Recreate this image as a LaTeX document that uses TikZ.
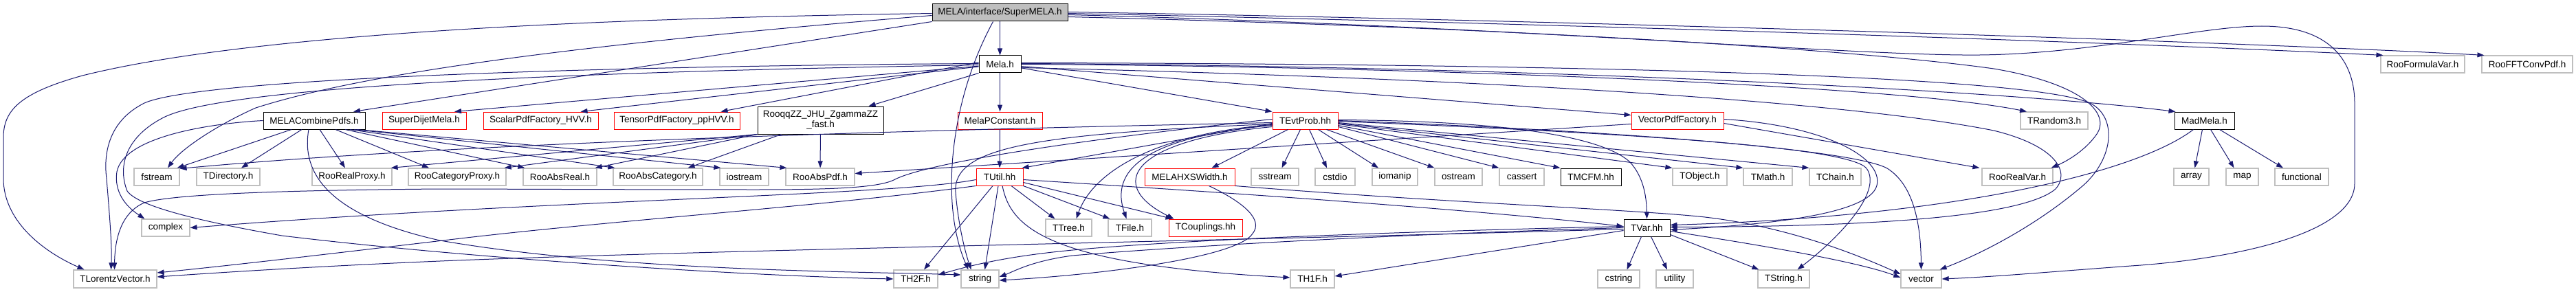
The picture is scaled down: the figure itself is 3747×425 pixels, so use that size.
\documentclass[tikz,border=0pt]{standalone}
\usepackage{fontspec}
\setmainfont{Liberation Sans}
\usetikzlibrary{arrows.meta}
\definecolor{edgec}{RGB}{25,25,112}
\definecolor{grayb}{RGB}{191,191,191}
\definecolor{redb}{RGB}{255,0,0}
\newcommand\nb[7]{\node[#1,minimum width={(#4)-(#3)},minimum height={(#6)-(#5)}] (#2) at ({((#3)+(#4))/2},{((#5)+(#6))/2}) {#7};}
\begin{document}
\begin{tikzpicture}[x=1pt,y=-1pt,
  box/.style={rectangle,inner sep=0pt,align=center,font=\fontsize{13.5}{15}\selectfont,line width=1pt,fill=white},
  gry/.style={box,draw=grayb,line width=1.2pt},
  blk/.style={box,draw=black},
  rbx/.style={box,draw=redb},
  rootb/.style={box,draw=black,fill=grayb},
  ed/.style={draw=edgec,line width=1pt,-{Triangle[length=10pt,width=7pt]}}]
\fill[white] (0,0) rectangle (3747,425);
\useasboundingbox (0,0) rectangle (3747,425);
% rank 0,1
\nb{rootb}{smela}{1356}{1553}{6}{31}{MELA/interface/SuperMELA.h}
\nb{blk}{mela}{1424}{1485}{81}{106}{Mela.h}
\nb{gry}{rfv}{3463}{3585}{81}{106}{RooFormulaVar.h}
\nb{gry}{rfft}{3610}{3742}{81}{106}{RooFFTConvPdf.h}
% rank 2
\nb{blk}{mcp}{383}{531}{163}{188}{MELACombinePdfs.h}
\nb{rbx}{sdm}{556}{678}{163}{188}{SuperDijetMela.h}
\nb{rbx}{spf}{703}{870}{163}{188}{ScalarPdfFactory\_HVV.h}
\nb{rbx}{tpf}{893}{1076}{163}{188}{TensorPdfFactory\_ppHVV.h}
\nb{blk}{rqz}{1102}{1285}{155}{195}{RooqqZZ\_JHU\_ZgammaZZ\\\_fast.h}
\nb{rbx}{mpc}{1393}{1516}{163}{188}{MelaPConstant.h}
\nb{rbx}{tep}{1851}{1946}{163}{188}{TEvtProb.hh}
\nb{rbx}{vpf}{2373}{2507}{163}{188}{VectorPdfFactory.h}
\nb{gry}{trnd}{2939}{3037}{163}{188}{TRandom3.h}
\nb{blk}{mad}{3163}{3250}{163}{188}{MadMela.h}
% rank 3
\nb{gry}{fst}{195}{261}{245}{270}{fstream}
\nb{gry}{tdir}{286}{378}{245}{270}{TDirectory.h}
\nb{gry}{rrp}{454}{570}{245}{270}{RooRealProxy.h}
\nb{gry}{rcp}{594}{736}{245}{270}{RooCategoryProxy.h}
\nb{gry}{rar}{761}{868}{245}{270}{RooAbsReal.h}
\nb{gry}{rac}{892}{1022}{245}{270}{RooAbsCategory.h}
\nb{gry}{ios}{1047}{1118}{245}{270}{iostream}
\nb{gry}{rap}{1143}{1243}{245}{270}{RooAbsPdf.h}
\nb{rbx}{tutil}{1420}{1488}{245}{270}{TUtil.hh}
\nb{rbx}{mhx}{1665}{1796}{245}{270}{MELAHXSWidth.h}
\nb{gry}{sst}{1820}{1889}{245}{270}{sstream}
\nb{gry}{cstdio}{1913}{1971}{245}{270}{cstdio}
\nb{gry}{ioman}{1996}{2062}{245}{270}{iomanip}
\nb{gry}{ostr}{2087}{2156}{245}{270}{ostream}
\nb{gry}{cass}{2181}{2246}{245}{270}{cassert}
\nb{blk}{tmcfm}{2270}{2358}{245}{270}{TMCFM.hh}
\nb{gry}{tobj}{2433}{2512}{245}{270}{TObject.h}
\nb{gry}{tmath}{2536}{2607}{245}{270}{TMath.h}
\nb{gry}{tchain}{2632}{2707}{245}{270}{TChain.h}
\nb{gry}{rrv}{2883}{2986}{245}{270}{RooRealVar.h}
\nb{gry}{arr}{3162}{3213}{245}{270}{array}
\nb{gry}{map}{3238}{3285}{245}{270}{map}
\nb{gry}{func}{3309}{3387}{245}{270}{functional}
% rank 4
\nb{gry}{cplx}{206}{276}{319}{344}{complex}
\nb{gry}{ttree}{1521}{1588}{319}{344}{TTree.h}
\nb{gry}{tfile}{1612}{1675}{319}{344}{TFile.h}
\nb{rbx}{tcoup}{1700}{1807}{319}{344}{TCouplings.hh}
\nb{blk}{tvar}{2362}{2429}{319}{344}{TVar.hh}
% rank 5
\nb{gry}{tlv}{107}{228}{393}{419}{TLorentzVector.h}
\nb{gry}{th2f}{1300}{1364}{393}{419}{TH2F.h}
\nb{gry}{str}{1398}{1453}{393}{419}{string}
\nb{gry}{th1f}{1877}{1941}{393}{419}{TH1F.h}
\nb{gry}{cstr}{2324}{2385}{393}{419}{cstring}
\nb{gry}{util}{2409}{2463}{393}{419}{utility}
\nb{gry}{tstr}{2557}{2632}{393}{419}{TString.h}
\nb{gry}{vec}{2765}{2824}{393}{419}{vector}

% ---- SuperMELA.h
\draw[ed] (smela) -- (mela);
\draw[ed] ([xshift=-10pt]smela.south) .. controls (1380,150) and (1368,300) .. ([xshift=-17pt]str.north);
\draw[ed] ([yshift=-1pt]smela.west) .. controls (1000,25) and (400,40) .. (120,110) .. controls (30,135) and (5,160) .. (5,200) -- (5,260) .. controls (5,320) and (60,365) .. ([xshift=-45pt]tlv.north);
\draw[ed] ([yshift=-4pt]smela.west) .. controls (900,60) and (550,100) .. (372,157) .. controls (320,180) and (265,215) .. ([xshift=16pt]fst.north);
\draw[ed] (smela.south west) -- ([xshift=57pt]mcp.north);
\draw[ed] ([yshift=1pt]smela.east) .. controls (2200,28) and (3200,58) .. ([xshift=4pt]rfft.north west);
\draw[ed] ([yshift=-1pt]smela.east) .. controls (2200,33) and (3000,58) .. ([xshift=4pt]rfv.north west);
\draw[ed] ([yshift=-3pt]smela.east) .. controls (2200,38) and (2700,82) .. (2880,80) .. controls (3050,78) and (3200,38) .. (3290,38) .. controls (3400,38) and (3425,100) .. (3425,150) -- (3425,267) .. controls (3425,340) and (3250,377) .. (3100,387) .. controls (2990,395) and (2900,403) .. (vec.east);
\draw[ed] ([yshift=-6pt]smela.east) .. controls (2200,40) and (2700,72) .. (2900,100) .. controls (3030,122) and (3070,165) .. (3050,195) .. controls (3035,217) and (3010,233) .. ([xshift=-3pt]rrv.north east);

% ---- Mela.h
\draw[ed] (mela) -- (mpc);
\draw[ed] (mela) -- (tep.north west);
\draw[ed] ([yshift=-3pt]mela.east) -- ([yshift=8pt]vpf.west);
\draw[ed] (mela.east) .. controls (2000,96) and (2750,122) .. ([xshift=-40pt]trnd.north);
\draw[ed] ([yshift=1pt]mela.east) .. controls (2200,96) and (2900,130) .. ([xshift=2pt]mad.north west);
\draw[ed] ([yshift=2pt]mela.east) .. controls (2300,93) and (2950,110) .. (3040,150) .. controls (3080,170) and (3075,230) .. (3030,270) .. controls (2960,330) and (2880,370) .. ([xshift=-3pt]vec.north east);
\draw[ed] ([yshift=-5pt]mela.east) .. controls (2200,115) and (2700,150) .. (2900,190) .. controls (2990,212) and (3012,250) .. (2990,275) .. controls (2940,318) and (2700,330) .. ([yshift=1pt]tvar.east);
\draw[ed] (mela.south west) -- ([xshift=70pt]rqz.north);
\draw[ed] ([yshift=3pt]mela.west) -- ([xshift=64pt]tpf.north);
\draw[ed] (mela) -- ([xshift=58pt]spf.north);
\draw[ed] (mela) -- ([xshift=44pt]sdm.north);
\draw[ed] ([yshift=1pt]mela.west) .. controls (1000,95) and (300,110) .. (210,150) .. controls (160,175) and (150,220) .. (155,260) .. controls (160,320) and (163,360) .. ([xshift=-6pt]tlv.north);
\draw[ed] ([yshift=-1pt]mela.west) .. controls (1000,102) and (350,118) .. (240,170) .. controls (185,197) and (170,240) .. (185,278) .. controls (200,300) and (290,322) .. (410,343) .. controls (700,378) and (1100,402) .. (th2f.west);

% ---- MelaPConstant.h
\draw[ed] (mpc) -- (tutil);

% ---- MELACombinePdfs.h
\draw[ed] ([xshift=-33pt]mcp.south) -- ([xshift=-4pt]fst.north east);
\draw[ed] ([xshift=-18pt]mcp.south) -- ([xshift=19pt]tdir.north);
\draw[ed] ([xshift=8pt]mcp.south) -- ([xshift=-10pt]rrp.north);
\draw[ed] ([xshift=31pt]mcp.south) -- ([xshift=-41pt]rcp.north);
\draw[ed] ([xshift=45pt]mcp.south) -- ([xshift=3pt]rar.north west);
\draw[ed] ([xshift=52pt]mcp.south) -- ([xshift=3pt]rac.north west);
\draw[ed] ([xshift=58pt]mcp.south) -- ([xshift=2pt]ios.north west);
\draw[ed] ([xshift=62pt]mcp.south) -- ([xshift=2pt]rap.north west);
\draw[ed] (mcp.west) .. controls (300,180) and (180,200) .. (170,250) .. controls (165,285) and (190,305) .. ([xshift=5pt]cplx.north west);
\draw[ed] ([xshift=-8pt]mcp.south) .. controls (440,240) and (460,310) .. (640,350) .. controls (900,395) and (1250,395) .. ([yshift=6pt]str.west);

% ---- RooqqZZ_JHU_ZgammaZZ_fast.h
\draw[ed] (rqz) -- (rap);
\draw[ed] ([xshift=-57pt]rqz.south) -- ([xshift=-22pt]rac.north east);
\draw[ed] (rqz.south west) -- ([xshift=-3pt]rar.north east);
\draw[ed] (rqz.south west) -- ([xshift=-3pt]rcp.north east);
\draw[ed] (rqz.south west) -- ([xshift=-2pt]rrp.north east);

% ---- TEvtProb.hh
\draw[ed] ([yshift=-3pt]tep.west) .. controls (1400,188) and (700,205) .. ([yshift=-1pt]fst.north east);
\draw[ed] ([yshift=2pt]tep.west) .. controls (1600,200) and (1350,235) .. (1300,262) .. controls (1275,274) and (1200,276) .. (1100,276) .. controls (900,276) and (700,275) .. (640,275) .. controls (400,277) and (250,283) .. (210,295) .. controls (175,310) and (167,350) .. ([xshift=-1pt]tlv.north);
\draw[ed] ([yshift=-4pt]tep.west) -- ([xshift=-2pt]tutil.north east);
\draw[ed] ([yshift=-5pt]tep.west) .. controls (1500,195) and (1385,215) .. (1390,280) .. controls (1394,330) and (1405,370) .. ([xshift=-13pt]str.north);
\draw[ed] ([yshift=-6pt]tep.west) .. controls (1680,195) and (1590,250) .. ([xshift=11pt]ttree.north);
\draw[ed] ([yshift=-7pt]tep.west) .. controls (1660,200) and (1615,250) .. ([xshift=-5pt]tfile.north);
\draw[ed] ([yshift=-9pt]tep.west) .. controls (1640,205) and (1610,270) .. ([xshift=8pt]tcoup.north west);
\draw[ed] ([xshift=-25pt]tep.south) -- ([xshift=32pt]mhx.north);
\draw[ed] ([xshift=-7pt]tep.south) -- ([xshift=10pt]sst.north);
\draw[ed] ([xshift=6pt]tep.south) -- ([xshift=-12pt]cstdio.north);
\draw[ed] ([xshift=19pt]tep.south) -- ([xshift=-24pt]ioman.north);
\draw[ed] ([xshift=31pt]tep.south) -- ([xshift=-35pt]ostr.north);
\draw[ed] ([yshift=-9pt]tep.east) -- (cass.north west);
\draw[ed] ([yshift=-7pt]tep.east) -- (tmcfm.north west);
\draw[ed] ([yshift=-5pt]tep.east) -- (tobj.north west);
\draw[ed] ([yshift=-4pt]tep.east) -- (tmath.north west);
\draw[ed] ([yshift=-3pt]tep.east) -- (tchain.north west);
\draw[ed] ([yshift=-1pt]tep.east) .. controls (2400,195) and (2690,215) .. (2715,245) .. controls (2740,280) and (2670,350) .. ([xshift=20pt]tstr.north);
\draw[ed] (tep.east) .. controls (2400,192) and (2700,220) .. (2745,245) .. controls (2785,270) and (2794,330) .. (vec.north);
\draw[ed] ([yshift=1pt]tep.east) .. controls (2200,176) and (2330,200) .. (2370,235) .. controls (2392,258) and (2395,290) .. (tvar.north);

% ---- VectorPdfFactory.h
\draw[ed] ([yshift=-5pt]vpf.west) -- ([yshift=5pt]rap.east);
\draw[ed] ([yshift=-4pt]vpf.east) -- ([xshift=-3pt]rrv.north west);
\draw[ed] ([yshift=2pt]vpf.east) .. controls (2650,182) and (2740,228) .. (2730,270) .. controls (2718,315) and (2550,328) .. ([yshift=-3pt]tvar.east);

% ---- MadMela.h
\draw[ed] ([xshift=-3pt]mad.south) -- ([xshift=5pt]arr.north);
\draw[ed] ([xshift=9pt]mad.south) -- ([xshift=-12pt]map.north);
\draw[ed] ([xshift=22pt]mad.south) -- ([xshift=-27pt]func.north);
\draw[ed] ([xshift=-16pt]mad.south) .. controls (3110,250) and (2850,315) .. ([yshift=4pt]tvar.east);

% ---- TUtil.hh
\draw[ed] ([yshift=-4pt]tutil.west) .. controls (1300,285) and (800,290) .. (cplx.east);
\draw[ed] (tutil.south west) .. controls (1200,300) and (900,320) .. (670,347) .. controls (500,367) and (350,385) .. ([yshift=9pt]tlv.east);
\draw[ed] ([xshift=17pt]tutil.south) -- ([xshift=-20pt]ttree.north);
\draw[ed] (tutil.south east) -- ([xshift=3pt]tfile.north west);
\draw[ed] ([yshift=-8pt]tutil.east) -- ([xshift=6pt]tcoup.north west);
\draw[ed] ([xshift=-10pt]tutil.south) -- ([xshift=12pt]th2f.north);
\draw[ed] ([xshift=-2pt]tutil.south) -- ([xshift=7pt]str.north);
\draw[ed] ([xshift=4pt]tutil.south) .. controls (1470,330) and (1520,385) .. ([yshift=2pt]th1f.west);
\draw[ed] ([yshift=-4pt]tutil.east) .. controls (1650,272) and (2100,300) .. ([yshift=2pt]tvar.west);

% ---- MELAHXSWidth.h
\draw[ed] ([xshift=28pt]mhx.south) .. controls (1810,295) and (1838,320) .. (1822,340) .. controls (1800,375) and (1600,400) .. ([yshift=-2pt]str.east);
\draw[ed] (mhx.south east) .. controls (2100,295) and (2380,305) .. (2480,316) .. controls (2600,330) and (2700,370) .. ([yshift=7pt]vec.west);

% ---- TVar.hh
\draw[ed] ([xshift=-8pt]tvar.south) -- ([xshift=12pt]cstr.north);
\draw[ed] ([xshift=6pt]tvar.south) -- ([xshift=-11pt]util.north);
\draw[ed] ([yshift=-10pt]tvar.east) -- ([xshift=2pt]tstr.north west);
\draw[ed] ([yshift=-5pt]tvar.east) .. controls (2550,355) and (2700,380) .. ([yshift=2pt]vec.west);
\draw[ed] ([yshift=-4pt]tvar.west) -- ([yshift=4pt]th1f.east);
\draw[ed] ([yshift=2pt]tvar.west) .. controls (2000,338) and (1700,350) .. (1550,365) .. controls (1450,375) and (1400,390) .. ([yshift=6pt]th2f.east);
\draw[ed] (tvar.west) .. controls (2000,342) and (1700,360) .. (1560,372) .. controls (1500,380) and (1475,395) .. ([yshift=3pt]str.east);
\draw[ed] ([yshift=-2pt]tvar.west) .. controls (1800,350) and (1000,365) .. (640,380) .. controls (450,388) and (300,398) .. ([yshift=3pt]tlv.east);
\end{tikzpicture}
\end{document}
